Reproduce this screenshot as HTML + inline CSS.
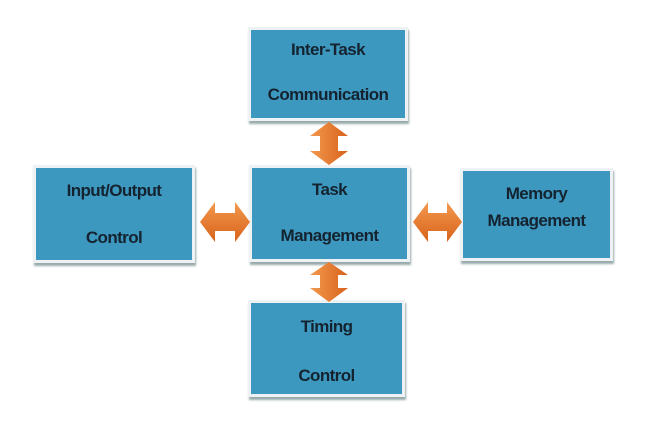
<!DOCTYPE html>
<html><head><meta charset="utf-8"><style>
body{margin:0;width:658px;height:427px;background:#fff;position:relative;overflow:hidden;font-family:"Liberation Sans",sans-serif}
.b{position:absolute;background:#3d98c0;border:3px solid #eef2f4;box-shadow:1px 3px 2px #9aa;box-sizing:border-box}
.t{position:absolute;left:0;right:0;text-align:center;font-weight:bold;font-size:17px;color:#14232f;letter-spacing:-0.6px}
svg{position:absolute;left:0;top:0}
</style></head><body>
<div class="b" style="left:248px;top:27px;width:160px;height:94px"><div class="t" style="top:10px">Inter-Task</div><div class="t" style="top:55px">Communication</div></div>
<div class="b" style="left:33px;top:165px;width:162px;height:98px"><div class="t" style="top:13px">Input/Output</div><div class="t" style="top:60px">Control</div></div>
<div class="b" style="left:249px;top:165px;width:161px;height:97px"><div class="t" style="top:12px">Task</div><div class="t" style="top:58px">Management</div></div>
<div class="b" style="left:460px;top:168px;width:153px;height:93px"><div class="t" style="top:13px">Memory</div><div class="t" style="top:40px">Management</div></div>
<div class="b" style="left:248px;top:300px;width:157px;height:97px"><div class="t" style="top:14px">Timing</div><div class="t" style="top:63px">Control</div></div>
<svg width="658" height="427">
<defs><linearGradient id="g" x1="0" y1="0" x2="0" y2="1"><stop offset="0" stop-color="#f39a4f"/><stop offset="1" stop-color="#d8621a"/></linearGradient>
<linearGradient id="gv" x1="0" y1="0" x2="1" y2="0"><stop offset="0" stop-color="#f39a4f"/><stop offset="1" stop-color="#d8621a"/></linearGradient></defs>
<g fill="url(#g)">
<polygon points="200,222 215,202 215,213 235,213 235,202 250,222 235,242 235,231 215,231 215,242"/>
<polygon points="413,222 428,202 428,213 447,213 447,202 462,222 447,242 447,231 428,231 428,242"/>
</g>
<g fill="url(#gv)">
<polygon points="329,122 348,136 338,136 338,151 348,151 329,165 310,151 320,151 320,136 310,136"/>
<polygon points="329,262 348,275 338,275 338,288 348,288 329,302 310,288 320,288 320,275 310,275"/>
</g>
</svg>
</body></html>
